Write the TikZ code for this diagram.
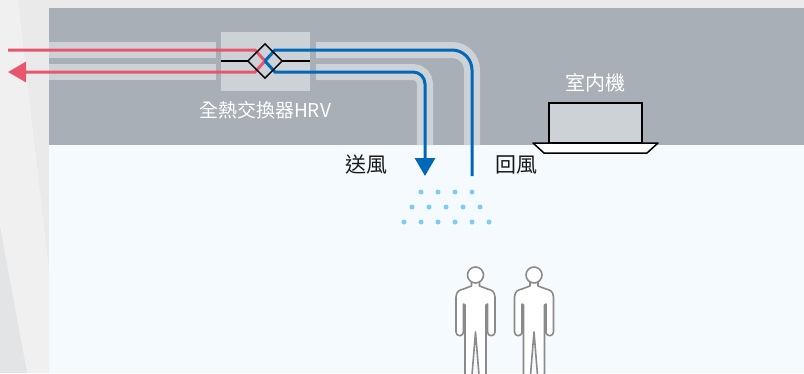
\documentclass[tikz,border=0pt]{standalone}
\usepackage{fontspec}
\newfontfamily\cjk{Noto Sans CJK TC}
\usepackage{tikz}
\usetikzlibrary{arrows.meta,shapes.geometric}

\definecolor{wallgray}{HTML}{EAEAEA}
\definecolor{walllight}{HTML}{F0F0F0}
\definecolor{walldark}{HTML}{E3E4E5}
\definecolor{ceilgray}{HTML}{A8AFB6}
\definecolor{ductgray}{HTML}{CDD2D6}
\definecolor{roomblue}{HTML}{F5FAFE}
\definecolor{exhaustred}{HTML}{E8566E}
\definecolor{supplyblue}{HTML}{0068B7}
\definecolor{mistblue}{HTML}{7DCDF2}
\definecolor{bodygray}{HTML}{8A8A8A}

%one standing person, head centre at (#1,#2)
\newcommand{\occupant}[2]{%
	\begin{scope}[shift={(#1,#2)}]
	\draw[person] (0,57) -- (-3.5,100) -- (-10.5,100) -- (-10.5,30) -- (-12,29) -- (-12,57)
		arc[start angle=0,end angle=180,radius=3.75] -- (-19.5,22)
		.. controls (-19,16) and (-16,15) .. (-12,14) -- (-4,11) -- (-4,7)
		-- (4,7) -- (4,11) -- (12,14) .. controls (16,15) and (19,16) .. (19.5,22)
		-- (19.5,57) arc[start angle=0,end angle=180,radius=3.75] -- (12,29) -- (10.5,30)
		-- (10.5,100) -- (3.5,100) -- cycle;
	\draw[person] (0,0) circle[radius=8];
	\end{scope}}

\begin{document}
\begin{tikzpicture}[x=1pt,y=-1pt,
	duct/.style={draw=ductgray,line width=16pt},
	exhaust/.style={draw=exhaustred,line width=3pt},
	supply/.style={draw=supplyblue,line width=3pt},
	bigtip/.style={-{Triangle[length=18pt,width=20pt]}},
	hrvline/.style={draw=black,line width=1.4pt},
	mist/.style={fill=mistblue},
	person/.style={draw=bodygray,fill=white,line width=1.6pt,line join=round},
	roomtext/.style={inner sep=0pt,text=black!90,font=\cjk\fontsize{21pt}{21pt}\selectfont},
	ceiltext/.style={inner sep=0pt,text=white,font=\cjk\fontsize{19pt}{19pt}\selectfont}]

	\useasboundingbox (0,0) rectangle (804,373);
	\clip (0,0) rectangle (804,373);

	%Define the heat exchanger centre, the ceiling line and the duct drops
	\pgfmathsetmacro{\hx}{265}
	\pgfmathsetmacro{\hy}{61}
	\pgfmathsetmacro{\ceily}{145}
	\pgfmathsetmacro{\supx}{425}
	\pgfmathsetmacro{\retx}{472}

	%Wall, ceiling void and room
	\fill[wallgray] (0,0) rectangle (804,373);
	\fill[walllight] (0,0) -- (18,0) -- (49,270) -- (49,373) -- (27,373) -- (0,227) -- cycle;
	\fill[walldark] (0,227) -- (27,373) -- (0,373) -- cycle;
	\fill[ceilgray] (49,8) rectangle (804,\ceily);
	\fill[roomblue] (49,\ceily) rectangle (804,373);

	%Ducts
	\draw[duct] (49,50) -- (216,50);
	\draw[duct] (49,72) -- (216,72);
	\draw[duct] (316,50) -- (\retx-20,50) arc[start angle=-90,end angle=0,radius=20] -- (\retx,\ceily);
	\draw[duct] (316,72) -- (\supx-12,72) arc[start angle=-90,end angle=0,radius=12] -- (\supx,\ceily);

	%Heat exchanger box and core
	\node[fill=ductgray,minimum width=89pt,minimum height=59pt,inner sep=0pt] (hrvbox) at (265.5,\hy) {};
	\node[diamond,minimum size=34pt,inner sep=0pt] (core) at (\hx,\hy) {};
	\draw[hrvline] (hrvbox.west |- core) -- (core.west);
	\draw[hrvline] (core.east) -- (hrvbox.east |- core);

	%Air streams
	\coordinate (oa) at (8,50);
	\coordinate (ea) at (8,72);
	\coordinate (sa) at (\supx,176);
	\coordinate (ra) at (\retx,176);
	\draw[exhaust] (oa) -- (255,50) -- (core.center);
	\draw[exhaust,bigtip] (core.center) -- (255,72) -- (ea);
	\draw[supply] (core.center) -- (275,50) -- (\retx-20,50) arc[start angle=-90,end angle=0,radius=20] -- (ra);
	\draw[supply,bigtip] (core.center) -- (275,72) -- (\supx-12,72) arc[start angle=-90,end angle=0,radius=12] -- (sa);
	\draw[hrvline] (core.west) -- (core.north) -- (core.east) -- (core.south) -- cycle;

	%Indoor unit
	\filldraw[fill=ductgray,draw=black,line width=1.5pt] (549,103) rectangle (642,143);
	\filldraw[fill=white,draw=black,line width=1.5pt,line join=round] (533,143) -- (658,143) -- (647,153) -- (544,153) -- cycle;

	%Labels
	\node[ceiltext] (hrvlbl) at (265,110) {全熱交換器HRV};
	\node[ceiltext,font=\cjk\fontsize{20pt}{20pt}\selectfont] (unitlbl) at (595,83) {室内機};
	\node[roomtext] (supplylbl) at (366,165) {送風};
	\node[roomtext] (returnlbl) at (516,165) {回風};

	%Supply air spread
	\foreach \i in {0,...,3} \fill[mist] (421+17*\i,192) circle[radius=2.5];
	\foreach \i in {0,...,4} \fill[mist] (412+17*\i,207) circle[radius=2.5];
	\foreach \i in {0,...,5} \fill[mist] (404+17*\i,222) circle[radius=2.5];

	%Occupants
	\occupant{475.5}{275}
	\occupant{534}{275}

\end{tikzpicture}
\end{document}
